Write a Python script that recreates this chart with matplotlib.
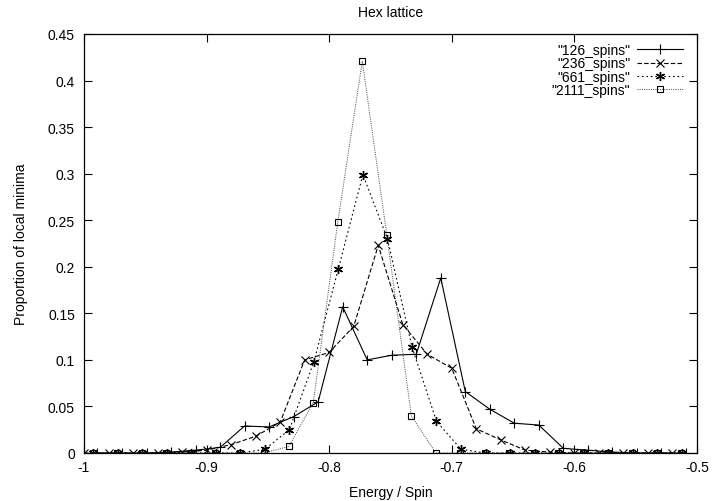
import matplotlib
matplotlib.use("Agg")
import matplotlib.pyplot as plt
from matplotlib.ticker import FormatStrFormatter

plt.rcParams['font.family'] = ['Liberation Sans', 'DejaVu Sans']
plt.rcParams['axes.unicode_minus'] = False

# bin centres (each series is offset a little)
x_126 = [-0.989, -0.969, -0.949, -0.929, -0.909, -0.889, -0.869, -0.849, -0.829,
         -0.809, -0.789, -0.769, -0.749, -0.729, -0.709, -0.689, -0.669, -0.649,
         -0.629, -0.609, -0.589, -0.569, -0.549, -0.529, -0.509]
y_126 = [0, 0, 0, 0.001, 0.003, 0.006, 0.029, 0.028, 0.039,
         0.055, 0.157, 0.100, 0.105, 0.106, 0.188, 0.066, 0.047, 0.032,
         0.030, 0.005, 0.003, 0.001, 0, 0, 0]

x_236 = [-1.00, -0.98, -0.96, -0.94, -0.92, -0.90, -0.88, -0.86, -0.84,
         -0.82, -0.80, -0.78, -0.76, -0.74, -0.72, -0.70, -0.68, -0.66,
         -0.64, -0.62, -0.60, -0.58, -0.56, -0.54, -0.52]
y_236 = [0, 0, 0, 0, 0.001, 0.003, 0.009, 0.018, 0.033,
         0.100, 0.108, 0.136, 0.223, 0.138, 0.106, 0.091, 0.026, 0.014,
         0.003, 0.001, 0, 0, 0, 0, 0]

x_661 = [-0.9925, -0.9725, -0.9525, -0.9325, -0.9125, -0.8925, -0.8725, -0.8525, -0.8325,
         -0.8125, -0.7925, -0.7725, -0.7525, -0.7325, -0.7125, -0.6925, -0.6725, -0.6525,
         -0.6325, -0.6125, -0.5925, -0.5725, -0.5525, -0.5325, -0.5125]
y_661 = [0, 0, 0, 0, 0, 0, 0, 0.004, 0.025,
         0.098, 0.198, 0.299, 0.230, 0.114, 0.034, 0.004, 0, 0,
         0, 0, 0, 0, 0, 0, 0]

x_2111 = [-0.993, -0.973, -0.953, -0.933, -0.913, -0.893, -0.873, -0.853, -0.833,
          -0.813, -0.793, -0.773, -0.753, -0.733, -0.713, -0.693, -0.673, -0.653,
          -0.633, -0.613, -0.593, -0.573, -0.553, -0.533, -0.513]
y_2111 = [0, 0, 0, 0, 0, 0, 0, 0, 0.007,
          0.054, 0.248, 0.421, 0.234, 0.040, 0, 0, 0, 0,
          0, 0, 0, 0, 0, 0, 0]

x_ticks = [-1, -0.9, -0.8, -0.7, -0.6, -0.5]
y_ticks = [0, 0.05, 0.1, 0.15, 0.2, 0.25, 0.3, 0.35, 0.4, 0.45]

fs = 10
fig = plt.figure(figsize=(7.12, 5.02), dpi=100)
ax = fig.add_axes([84 / 712, 1 - 454 / 502, 613 / 712, 419 / 502])

lw = 0.8
ax.plot(x_126, y_126, color='black', lw=lw, ls='-', marker='+', ms=7,
        mew=0.8, label='"126_spins"')
ax.plot(x_236, y_236, color='black', lw=lw, ls=(0, (4, 2)), marker='x', ms=5.5,
        mew=0.8, label='"236_spins"')
ax.plot(x_661, y_661, color='black', lw=lw, ls=(0, (1.5, 2.5)), marker=(6, 2, 0), ms=6.5,
        mew=1.0, label='"661_spins"')
ax.plot(x_2111, y_2111, color='#444444', lw=0.7, ls=(0, (1, 1.3)), marker='s', ms=5,
        mew=0.8, mec='black', mfc='none', label='"2111_spins"')

ax.set_xlim(-1, -0.5)
ax.set_ylim(0, 0.45)
ax.set_xticks(x_ticks)
ax.set_yticks(y_ticks)
ax.xaxis.set_major_formatter(FormatStrFormatter('%g'))
ax.yaxis.set_major_formatter(FormatStrFormatter('%g'))
ax.tick_params(direction='in', length=6, width=0.8, top=True, right=True,
               labelsize=fs, pad=6.5)
ax.tick_params(axis='x', pad=5)
for s in ax.spines.values():
    s.set_linewidth(0.9)

ax.set_title('Hex lattice', fontsize=fs, pad=13)
ax.set_xlabel('Energy / Spin', fontsize=fs, labelpad=8)
ax.set_ylabel('Proportion of local minima', fontsize=fs, labelpad=14)

ax.legend(loc='upper right', frameon=False, markerfirst=False, fontsize=fs,
          handlelength=3.3, handletextpad=0.5, labelspacing=-0.04,
          borderaxespad=0.4, bbox_to_anchor=(0.995, 1.005))

fig.savefig('out.png', dpi=100)
